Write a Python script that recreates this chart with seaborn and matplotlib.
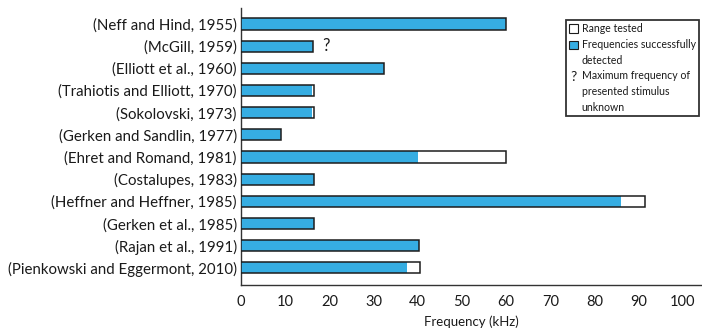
import matplotlib
matplotlib.use("Agg")
import matplotlib.pyplot as plt
import seaborn as sns
import pandas as pd
from matplotlib.patches import Patch, Rectangle
from matplotlib.text import Text
from matplotlib.legend_handler import HandlerBase

studies = [
    "(Neff and Hind, 1955)",
    "(McGill, 1959)",
    "(Elliott et al., 1960)",
    "(Trahiotis and Elliott, 1970)",
    "(Sokolovski, 1973)",
    "(Gerken and Sandlin, 1977)",
    "(Ehret and Romand, 1981)",
    "(Costalupes, 1983)",
    "(Heffner and Heffner, 1985)",
    "(Gerken et al., 1985)",
    "(Rajan et al., 1991)",
    "(Pienkowski and Eggermont, 2010)",
]
tested_max = [60, 16.4, 32.3, 16.6, 16.6, 9.0, 60, 16.5, 91.3, 16.5, 40.3, 40.5]
detected_max = [60, 16.4, 32.3, 16.1, 16.1, 9.0, 40, 16.5, 86, 16.5, 40.3, 37.5]
unknown_max = ["(McGill, 1959)"]
tick_values = [0, 10, 20, 30, 40, 50, 60, 70, 80, 90, 100]
legend_labels = ["Range tested", "Frequencies successfully\ndetected",
                 "Maximum frequency of\npresented stimulus\nunknown"]

df = pd.DataFrame({"study": studies, "tested": tested_max, "detected": detected_max})

sns.set_theme(style="white")
plt.rcParams["font.family"] = ["Lato", "DejaVu Sans"]

fig = plt.figure(figsize=(7.02, 3.28), dpi=100)
ax = fig.add_axes([241 / 702, 43 / 328, 1 - 241 / 702, 277 / 328])

blue = "#36ADE2"
edge = "#1c1c1c"
txt = "#1a1a1a"
w = 0.5

sns.barplot(data=df, x="tested", y="study", orient="h", color="white",
            width=w, edgecolor="none", linewidth=0, saturation=1, ax=ax, zorder=2)
sns.barplot(data=df, x="detected", y="study", orient="h", color=blue,
            width=w, edgecolor="none", linewidth=0, saturation=1, ax=ax, zorder=3)
sns.barplot(data=df, x="tested", y="study", orient="h", color=edge, fill=False,
            width=w, linewidth=1.1, saturation=1, ax=ax, zorder=4)

for s in unknown_max:
    i = studies.index(s)
    ax.text(df.loc[i, "tested"] + 2.0, i, "?", va="center", ha="left",
            fontsize=12, color=txt)

ax.set_xlim(0, 104.3)
ax.set_ylim(11.77, -0.72)
ax.set_xticks(tick_values)
ax.set_xticklabels([str(v) for v in tick_values])
ax.set_xlabel("Frequency (kHz)", fontsize=9.5, color=txt, labelpad=5)
ax.set_ylabel("")
ax.tick_params(axis="x", direction="inout", length=6, width=1, color="#333333",
               labelsize=10.5, labelcolor=txt, pad=4)
ax.tick_params(axis="y", length=0, labelsize=10.8, labelcolor=txt, pad=3)
for side in ["top", "right"]:
    ax.spines[side].set_visible(False)
for side in ["left", "bottom"]:
    ax.spines[side].set_color("#333333")
    ax.spines[side].set_linewidth(1.0)

PITCH_PT = 10.8  # line pitch of legend text, in points


class TopAlignedHandler(HandlerBase):
    def __init__(self, nlines, kind):
        super().__init__()
        self.nlines = nlines
        self.kind = kind

    def create_artists(self, legend, orig_handle, xdescent, ydescent,
                       width, height, fontsize, trans):
        shift = (self.nlines - 1) * PITCH_PT / 2.0
        if self.kind == "text":
            art = Text(-xdescent + width / 2, -ydescent + height / 2 + shift, "?",
                       ha="center", va="center", fontsize=10, color=txt,
                       transform=trans)
        else:
            art = Rectangle((-xdescent, -ydescent + shift), width, height,
                            facecolor=orig_handle.get_facecolor(),
                            edgecolor=edge, linewidth=0.8, transform=trans)
        return [art]


h_range = Patch(facecolor="white")
h_det = Patch(facecolor=blue)
h_q = Patch(facecolor="none")
handles = [h_range, h_det, h_q]
leg = fig.legend(handles, legend_labels, loc="upper left",
                 bbox_to_anchor=(566 / 702, 1 - 20 / 328), fontsize=7.6,
                 frameon=True, fancybox=False, edgecolor="black",
                 handlelength=0.8, handleheight=0.8, handletextpad=0.4,
                 labelspacing=0.42, borderpad=0.3, borderaxespad=0,
                 handler_map={h_range: TopAlignedHandler(1, "patch"),
                              h_det: TopAlignedHandler(2, "patch"),
                              h_q: TopAlignedHandler(3, "text")})
leg.get_frame().set_linewidth(1.3)
for t in leg.get_texts():
    t.set_color(txt)
    t.set_linespacing(1.55)

fig.savefig("out.png", dpi=100)
